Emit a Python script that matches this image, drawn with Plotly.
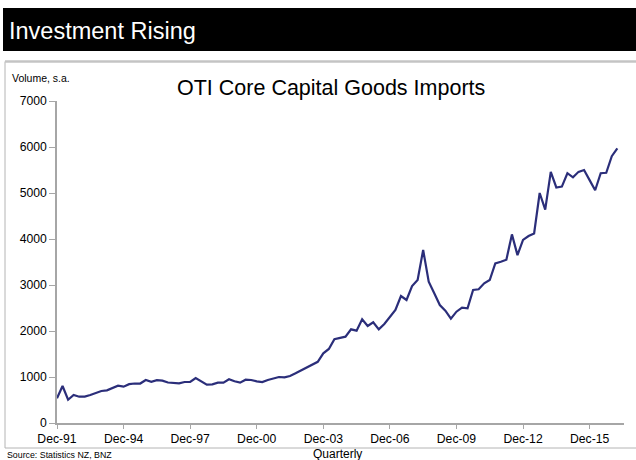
import pandas as pd
import plotly.graph_objects as go

# OTI core capital goods imports, volume, seasonally adjusted (quarterly, Dec-91 onwards)
volume = [
    537, 805, 505, 609, 572, 575, 610, 645, 696, 710,
    760, 810, 790, 845, 858, 858, 935, 895, 930, 920,
    880, 877, 862, 891, 891, 978, 899, 833, 841, 877,
    877, 950, 906, 877, 942, 935, 906, 891, 935, 964,
    1000, 993, 1022, 1080, 1140, 1200, 1260, 1330, 1514, 1610,
    1820, 1845, 1877, 2036, 2007, 2254, 2109, 2189, 2036, 2152,
    2297, 2457, 2761, 2674, 2978, 3109, 3761, 3072, 2819, 2565,
    2442, 2268, 2420, 2507, 2493, 2891, 2906, 3036, 3109, 3471,
    3507, 3550, 4100, 3650, 3980, 4065, 4120, 5000, 4640, 5460,
    5120, 5140, 5430, 5340, 5460, 5500, 5280, 5060, 5430, 5440,
    5800, 5970,
]
quarters = list(pd.period_range("1991Q4", periods=len(volume), freq="Q").strftime("%b-%y"))
tick_labels = ["Dec-91", "Dec-94", "Dec-97", "Dec-00", "Dec-03",
               "Dec-06", "Dec-09", "Dec-12", "Dec-15"]
y_ticks = [0, 1000, 2000, 3000, 4000, 5000, 6000, 7000]

W, H = 636, 460
L, R, T, B = 57, 12, 101, 37
FONT = "Liberation Sans, Arial, sans-serif"


def px_x(p):
    return (p - L) / (W - L - R)


def px_y(p):
    return 1 - (p - T) / (H - T - B)


fig = go.Figure()
fig.add_trace(go.Scatter(
    x=quarters, y=volume, mode="lines",
    line=dict(color="#2b2e7a", width=2.2),
    hoverinfo="skip", showlegend=False,
))

axis_grey = "#a6a6a6"
fig.update_xaxes(
    type="category", range=[0, 102.2],
    tickmode="array", tickvals=tick_labels, ticktext=tick_labels,
    ticks="outside", ticklen=4, tickcolor=axis_grey, tickwidth=1,
    showline=True, linecolor=axis_grey, linewidth=1.5,
    showgrid=False, zeroline=False,
    tickfont=dict(family=FONT, size=12.2, color="#000"),
)
fig.update_yaxes(
    range=[0, 7000], tickmode="array", tickvals=y_ticks,
    ticks="outside", ticklen=6, tickcolor=axis_grey, tickwidth=1,
    showline=True, linecolor=axis_grey, linewidth=1.5,
    showgrid=False, zeroline=False,
    tickfont=dict(family=FONT, size=12.2, color="#000"),
)

shapes = [
    # black header band
    dict(type="rect", xref="paper", yref="paper",
         x0=px_x(3), x1=px_x(640), y0=px_y(51), y1=px_y(8),
         fillcolor="#000", line=dict(width=0), layer="below"),
    # chart frame
    dict(type="rect", xref="paper", yref="paper",
         x0=px_x(5), x1=px_x(640), y0=px_y(448), y1=px_y(61.5),
         fillcolor="rgba(0,0,0,0)", line=dict(color="#b4b4b4", width=1), layer="below"),
    dict(type="line", xref="paper", yref="paper",
         x0=px_x(5), x1=px_x(640), y0=px_y(61.5), y1=px_y(61.5),
         line=dict(color="#c4c4c4", width=2.5), layer="below"),
]

annotations = [
    dict(text="Investment Rising", x=px_x(7), y=px_y(31), xanchor="left", yanchor="middle",
         font=dict(family=FONT, size=23.5, color="#fff")),
    dict(text="Volume, s.a.", x=px_x(10), y=px_y(78), xanchor="left", yanchor="middle",
         font=dict(family=FONT, size=10.5, color="#000")),
    dict(text="OTI Core Capital Goods Imports", x=px_x(331), y=px_y(88),
         xanchor="center", yanchor="middle",
         font=dict(family=FONT, size=21.5, color="#000")),
    dict(text="Quarterly", x=px_x(337), y=px_y(453.5), xanchor="center", yanchor="middle",
         font=dict(family=FONT, size=12, color="#000")),
    dict(text="Source: Statistics NZ, BNZ", x=px_x(5), y=px_y(455), xanchor="left", yanchor="middle",
         font=dict(family=FONT, size=8.8, color="#000")),
]
for a in annotations:
    a.update(xref="paper", yref="paper", showarrow=False)

fig.update_layout(
    width=W, height=H,
    margin=dict(l=L, r=R, t=T, b=B, pad=0),
    paper_bgcolor="#fff", plot_bgcolor="#fff",
    shapes=shapes, annotations=annotations,
)

fig.write_html("out.html")
